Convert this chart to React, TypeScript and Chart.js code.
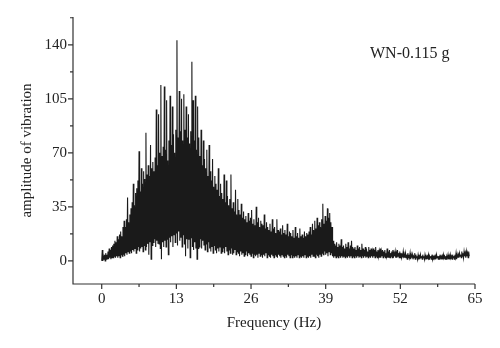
import React, { useEffect, useRef } from "react";
import { Chart, registerables } from "chart.js";

Chart.register(...registerables);

// Frequency grid spacing (Hz) of the amplitude samples below
const FREQ_STEP = 0.1;

// Amplitude of vibration (one sample every 0.1 Hz from 0 to 64 Hz, one row per Hz)
const AMPLITUDE: number[] = [
  0, 7, 0, 3, 1, 4, 0, 5, 1, 4,
  1, 6, 1, 8, 2, 7, 1, 9, 2, 10,
  2, 11, 3, 13, 2, 12, 3, 16, 2, 14,
  3, 17, 2, 19, 4, 16, 3, 22, 4, 26,
  3, 22, 5, 27, 4, 41, 6, 25, 5, 30,
  6, 34, 5, 38, 7, 50, 6, 36, 8, 44,
  5, 47, 7, 52, 9, 71, 6, 45, 8, 60,
  9, 50, 6, 58, 10, 53, 7, 83, 9, 56,
  11, 62, 4, 55, 12, 75, 1, 60, 10, 64,
  12, 58, 14, 67, 9, 98, 13, 62, 11, 95,
  11, 70, 8, 114, 1, 68, 12, 74, 9, 113,
  13, 72, 9, 104, 14, 65, 4, 78, 15, 107,
  12, 75, 16, 100, 9, 82, 17, 70, 12, 85,
  18, 143, 10, 80, 19, 110, 13, 84, 15, 105,
  9, 78, 17, 108, 11, 85, 3, 100, 14, 80,
  8, 95, 14, 76, 2, 84, 15, 129, 9, 104,
  7, 78, 12, 107, 8, 72, 1, 100, 8, 80,
  9, 68, 14, 85, 8, 62, 13, 78, 10, 66,
  7, 60, 11, 72, 6, 55, 12, 75, 8, 58,
  6, 52, 9, 66, 5, 48, 10, 55, 7, 50,
  5, 46, 8, 60, 6, 42, 9, 50, 5, 44,
  6, 40, 8, 56, 5, 38, 9, 52, 6, 42,
  4, 36, 7, 40, 5, 56, 8, 34, 4, 38,
  5, 32, 7, 46, 4, 30, 6, 40, 5, 33,
  3, 30, 6, 37, 4, 28, 5, 32, 3, 27,
  4, 29, 6, 25, 3, 31, 5, 26, 4, 28,
  3, 33, 5, 24, 2, 27, 4, 23, 3, 35,
  4, 25, 2, 28, 5, 22, 3, 26, 4, 24,
  2, 23, 4, 30, 3, 21, 5, 25, 2, 22,
  4, 20, 3, 24, 2, 19, 4, 27, 3, 21,
  2, 22, 4, 18, 3, 27, 2, 20, 4, 19,
  3, 21, 2, 17, 4, 23, 3, 18, 2, 20,
  3, 17, 2, 24, 4, 16, 3, 19, 2, 18,
  4, 16, 2, 20, 3, 15, 2, 22, 3, 16,
  2, 18, 4, 15, 2, 21, 3, 16, 2, 17,
  3, 15, 2, 19, 4, 16, 2, 18, 3, 17,
  2, 19, 3, 22, 2, 17, 4, 24, 3, 20,
  3, 26, 2, 21, 4, 28, 3, 23, 2, 25,
  4, 22, 3, 27, 5, 37, 4, 24, 6, 29,
  4, 26, 5, 34, 3, 28, 6, 31, 4, 25,
  5, 22, 3, 13, 2, 11, 3, 10, 2, 12,
  3, 9, 2, 11, 3, 10, 2, 14, 3, 9,
  2, 10, 3, 8, 2, 11, 3, 9, 2, 12,
  3, 8, 2, 10, 3, 13, 2, 9, 3, 8,
  2, 9, 3, 7, 2, 10, 3, 8, 2, 9,
  3, 7, 2, 11, 3, 8, 2, 7, 3, 9,
  2, 8, 3, 6, 2, 9, 3, 7, 2, 8,
  3, 6, 2, 8, 3, 7, 2, 9, 3, 6,
  2, 7, 3, 6, 2, 8, 2, 6, 3, 7,
  2, 6, 3, 7, 2, 5, 3, 8, 2, 6,
  2, 7, 2, 5, 3, 6, 2, 7, 2, 5,
  3, 6, 2, 5, 2, 7, 3, 5, 2, 6,
  2, 5, 2, 4, 3, 6, 2, 4, 2, 5,
  2, 4, 1, 5, 2, 4, 2, 5, 1, 4,
  2, 4, 1, 3, 2, 5, 1, 4, 2, 3,
  1, 4, 2, 3, 1, 4, 2, 3, 1, 4,
  2, 3, 1, 4, 2, 3, 1, 3, 2, 4,
  1, 3, 2, 3, 1, 4, 1, 3, 2, 3,
  1, 3, 1, 4, 2, 3, 1, 3, 1, 4,
  2, 3, 1, 3, 1, 4, 2, 3, 1, 3,
  1, 3, 2, 4, 1, 3, 1, 4, 2, 3,
  1, 4, 2, 3, 1, 4, 2, 5, 1, 4,
  2, 4, 2, 5, 3, 4, 2, 6, 3, 5,
  2, 6, 3, 5, 2, 6, 3, 5, 2, 6,
  3,
];

const X_TICKS = [0, 13, 26, 39, 52, 65];
const X_MINOR = [6.5, 19.5, 32.5, 45.5, 58.5];
const Y_TICKS = [0, 35, 70, 105, 140];
const Y_MINOR = [17.5, 52.5, 87.5, 122.5, 157.5];

const X_TITLE = "Frequency (Hz)";
const Y_TITLE = "amplitude of vibration";
const ANNOTATION = "WN-0.115 g";

const FONT = "'Liberation Serif', 'DejaVu Serif', serif";
const AXIS_COLOR = "#333333";
const TEXT_COLOR = "#222222";

const axesPlugin = {
  id: "axesPlugin",
  afterDraw(chart: any) {
    const { ctx, chartArea } = chart;
    const { left, right, top, bottom } = chartArea;
    const xs = chart.scales.x;
    const ys = chart.scales.y;
    ctx.save();
    ctx.strokeStyle = AXIS_COLOR;
    ctx.lineWidth = 1.2;
    ctx.beginPath();
    ctx.moveTo(left, top);
    ctx.lineTo(left, bottom);
    ctx.lineTo(right, bottom);
    ctx.stroke();
    ctx.beginPath();
    X_TICKS.forEach((v) => {
      const px = xs.getPixelForValue(v);
      ctx.moveTo(px, bottom);
      ctx.lineTo(px, bottom + 5);
    });
    X_MINOR.forEach((v) => {
      const px = xs.getPixelForValue(v);
      ctx.moveTo(px, bottom);
      ctx.lineTo(px, bottom + 3);
    });
    Y_TICKS.forEach((v) => {
      const py = ys.getPixelForValue(v);
      ctx.moveTo(left, py);
      ctx.lineTo(left - 5, py);
    });
    Y_MINOR.forEach((v) => {
      const py = ys.getPixelForValue(v);
      ctx.moveTo(left, py);
      ctx.lineTo(left - 3, py);
    });
    ctx.stroke();
    ctx.fillStyle = TEXT_COLOR;
    ctx.font = `16px ${FONT}`;
    ctx.textAlign = "left";
    ctx.textBaseline = "alphabetic";
    ctx.fillText(ANNOTATION, 370, 58);
    ctx.restore();
  },
};

export default function App() {
  const canvasRef = useRef<HTMLCanvasElement | null>(null);

  useEffect(() => {
    if (!canvasRef.current) return;
    const points = AMPLITUDE.map((a, i) => ({ x: i * FREQ_STEP, y: a }));
    const chart = new Chart(canvasRef.current, {
      type: "line",
      data: {
        datasets: [
          {
            data: points,
            borderColor: "#1a1a1a",
            borderWidth: 1.1,
            pointRadius: 0,
            tension: 0,
            fill: false,
          },
        ],
      },
      options: {
        animation: false,
        responsive: false,
        devicePixelRatio: 1,
        layout: { padding: { left: 0, top: 17, right: 25, bottom: 0 } },
        plugins: {
          legend: { display: false },
          tooltip: { enabled: false },
        },
        scales: {
          x: {
            type: "linear",
            min: -5,
            max: 65,
            grid: { display: false, drawTicks: false },
            border: { display: false },
            afterBuildTicks: (scale: any) => {
              scale.ticks = X_TICKS.map((v) => ({ value: v }));
            },
            afterFit: (scale: any) => {
              scale.height = 64;
            },
            ticks: {
              padding: 6,
              color: TEXT_COLOR,
              font: { family: FONT, size: 15 },
              maxRotation: 0,
              autoSkip: false,
            },
            title: {
              display: true,
              text: X_TITLE,
              color: TEXT_COLOR,
              font: { family: FONT, size: 15 },
              padding: { top: 0, bottom: 16 },
            },
          },
          y: {
            type: "linear",
            min: -15,
            max: 158,
            grid: { display: false, drawTicks: false },
            border: { display: false },
            afterBuildTicks: (scale: any) => {
              scale.ticks = Y_TICKS.map((v) => ({ value: v }));
            },
            afterFit: (scale: any) => {
              scale.width = 73;
            },
            ticks: {
              padding: 6,
              color: TEXT_COLOR,
              font: { family: FONT, size: 15 },
              autoSkip: false,
            },
            title: {
              display: true,
              text: Y_TITLE,
              color: TEXT_COLOR,
              font: { family: FONT, size: 15 },
              padding: { top: 18, bottom: 0 },
            },
          },
        },
      },
      plugins: [axesPlugin],
    });
    return () => chart.destroy();
  }, []);

  return (
    <div style={{ position: "fixed", left: 0, top: 0, width: 500, height: 348, background: "#fff" }}>
      <canvas ref={canvasRef} width={500} height={348} />
    </div>
  );
}
